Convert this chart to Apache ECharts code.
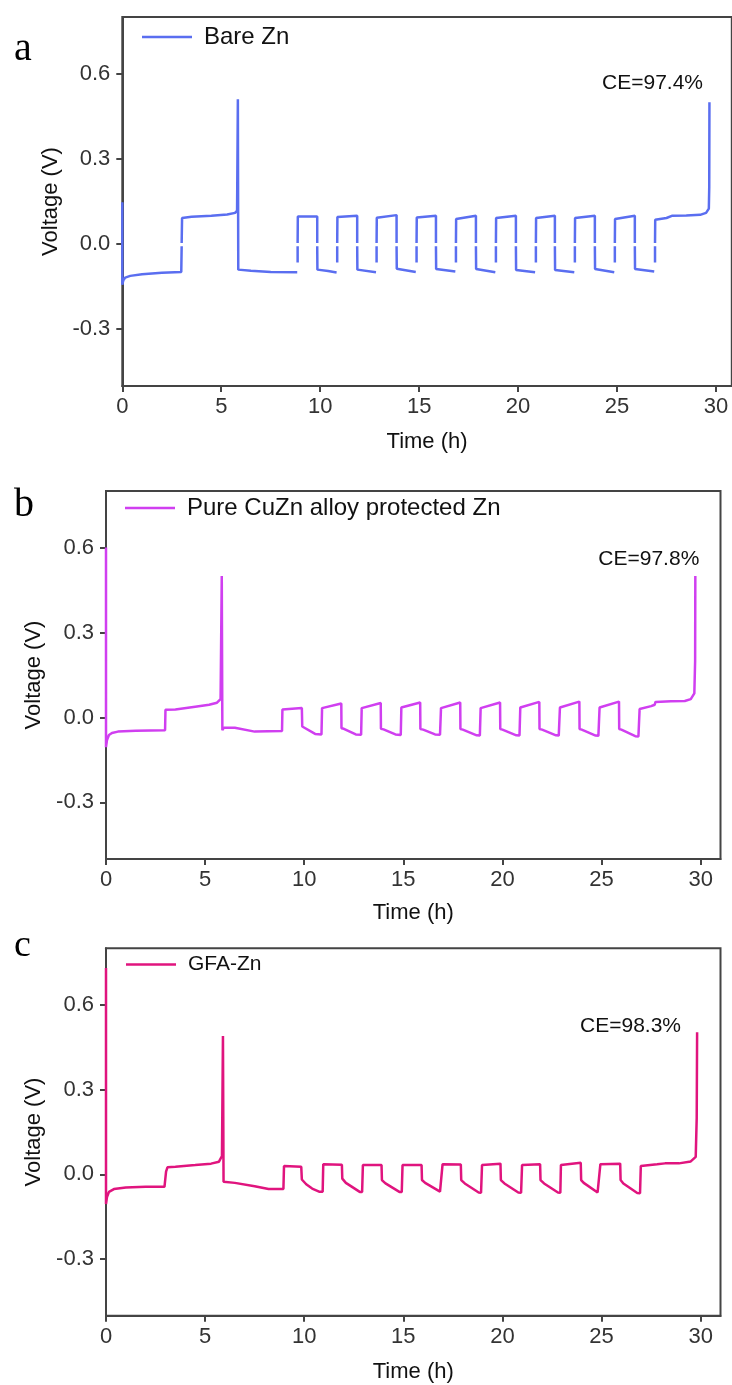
<!DOCTYPE html>
<html><head><meta charset="utf-8">
<script src="https://cdn.jsdelivr.net/npm/echarts@6/dist/echarts.min.js"></script>
<style>html,body{margin:0;padding:0;background:#fff;overflow:hidden}#c{width:732px;height:1385px}</style>
</head><body><div id="c"></div><script>
const seriesNames = ['Bare Zn', 'Pure CuZn alloy protected Zn', 'GFA-Zn'];
const panelLetters = ['a', 'b', 'c'];
const ceLabels = ['CE=97.4%', 'CE=97.8%', 'CE=98.3%'];
const xTicks = [0, 5, 10, 15, 20, 25, 30];
const yTicks = [-0.3, 0, 0.3, 0.6];
const xName = 'Time (h)';
const yName = 'Voltage (V)';

// [time (h), voltage (V)]; null = break in the trace
const bareZn = [
  [0,0.147],[0,-0.143],[0.05,-0.128],[0.15,-0.118],[0.4,-0.112],[1.0,-0.106],[2.0,-0.101],[2.98,-0.098],[3.0,-0.008],null,[3.0,0.004],[3.02,0.092],[3.5,0.096],[4.5,0.1],[5.3,0.104],[5.7,0.11],[5.8,0.118],[5.84,0.51],[5.86,-0.09],[6.5,-0.094],[7.5,-0.098],[8.84,-0.099],null,
  [8.86,-0.065],[8.86,-0.008],null,[8.86,0.004],[8.87,0.097],[9.85,0.097],[9.85,0.004],null,[9.85,-0.008],[9.86,-0.09],[10.4,-0.095],[10.83,-0.1],null,
  [10.86,-0.065],[10.86,-0.008],null,[10.86,0.004],[10.87,0.095],[11.87,0.1],[11.87,0.004],null,[11.87,-0.008],[11.88,-0.09],[12.82,-0.099],null,
  [12.85,-0.065],[12.85,-0.008],null,[12.85,0.004],[12.86,0.093],[13.86,0.102],[13.86,0.004],null,[13.86,-0.008],[13.87,-0.087],[14.83,-0.098],null,
  [14.87,-0.065],[14.87,-0.008],null,[14.87,0.004],[14.88,0.094],[15.85,0.1],[15.85,0.004],null,[15.85,-0.008],[15.86,-0.088],[16.83,-0.097],null,
  [16.86,-0.065],[16.86,-0.008],null,[16.86,0.004],[16.87,0.088],[17.87,0.1],[17.87,0.004],null,[17.87,-0.008],[17.88,-0.088],[18.85,-0.099],null,
  [18.88,-0.065],[18.88,-0.008],null,[18.88,0.004],[18.89,0.092],[19.89,0.1],[19.89,0.004],null,[19.89,-0.008],[19.9,-0.091],[20.86,-0.099],null,
  [20.9,-0.065],[20.9,-0.008],null,[20.9,0.004],[20.91,0.092],[21.86,0.1],[21.86,0.004],null,[21.86,-0.008],[21.87,-0.091],[22.84,-0.099],null,
  [22.87,-0.065],[22.87,-0.008],null,[22.87,0.004],[22.88,0.092],[23.88,0.1],[23.88,0.004],null,[23.88,-0.008],[23.89,-0.088],[24.86,-0.099],null,
  [24.89,-0.065],[24.89,-0.008],null,[24.89,0.004],[24.9,0.088],[25.9,0.1],[25.9,0.004],null,[25.9,-0.008],[25.91,-0.088],[26.88,-0.097],null,
  [26.92,-0.065],[26.92,-0.008],null,[26.92,0.004],[26.93,0.086],[27.5,0.092],[27.8,0.1],[28.5,0.101],[29.2,0.103],[29.5,0.11],[29.64,0.125],[29.66,0.2],[29.67,0.5]
];
const cuZn = [
  [0,0.6],[0,-0.105],[0.05,-0.08],[0.15,-0.062],[0.3,-0.055],[0.6,-0.05],[1.5,-0.047],[2.98,-0.045],[3.0,0.027],[3.5,0.028],[4.5,0.038],[5.2,0.045],[5.6,0.052],[5.78,0.065],[5.84,0.5],[5.87,-0.045],[5.95,-0.036],[6.5,-0.036],[7.5,-0.05],[8.88,-0.048],
  [8.9,0.028],[9.88,0.033],[9.9,-0.032],[10.0,-0.035],[10.55,-0.058],[10.87,-0.06],
  [10.9,0.033],[11.87,0.049],[11.88,-0.038],[12.0,-0.04],[12.6,-0.06],[12.87,-0.061],
  [12.9,0.033],[13.86,0.051],[13.87,-0.04],[14.0,-0.042],[14.6,-0.06],[14.87,-0.062],
  [14.9,0.035],[15.85,0.053],[15.86,-0.041],[16.0,-0.043],[16.6,-0.06],[16.85,-0.061],
  [16.9,0.033],[17.87,0.053],[17.88,-0.041],[18.0,-0.043],[18.7,-0.063],[18.86,-0.064],
  [18.9,0.033],[19.88,0.053],[19.89,-0.041],[20.0,-0.043],[20.7,-0.063],[20.86,-0.064],
  [20.9,0.035],[21.86,0.055],[21.87,-0.041],[22.0,-0.043],[22.7,-0.063],[22.84,-0.064],
  [22.9,0.035],[23.88,0.056],[23.89,-0.041],[24.0,-0.043],[24.7,-0.064],[24.84,-0.065],
  [24.9,0.035],[25.88,0.056],[25.89,-0.041],[26.0,-0.043],[26.7,-0.066],[26.86,-0.067],
  [26.92,0.03],[27.5,0.04],[27.68,0.045],[27.72,0.055],[28.5,0.057],[29.2,0.058],[29.5,0.065],[29.68,0.085],[29.72,0.2],[29.73,0.5]
];
const gfaZn = [
  [0,0.73],[0,-0.105],[0.05,-0.08],[0.15,-0.062],[0.4,-0.052],[1.0,-0.046],[2.0,-0.044],[2.95,-0.044],[3.0,-0.04],[3.03,0.01],[3.1,0.025],[3.5,0.027],[4.5,0.033],[5.3,0.038],[5.7,0.045],[5.85,0.065],[5.9,0.49],[5.93,-0.026],[6.5,-0.03],[7.5,-0.042],[8.2,-0.052],[8.95,-0.052],
  [8.98,0.03],[9.85,0.027],[9.88,-0.018],[10.1,-0.035],[10.4,-0.05],[10.75,-0.061],[10.93,-0.061],
  [10.96,0.036],[11.9,0.034],[11.92,-0.015],[12.1,-0.03],[12.8,-0.062],[12.92,-0.062],
  [12.96,0.033],[13.9,0.033],[13.92,-0.02],[14.1,-0.032],[14.8,-0.062],[14.92,-0.062],
  [14.96,0.033],[15.92,0.033],[15.94,-0.02],[16.1,-0.03],[16.85,-0.061],[16.94,-0.061],
  [16.98,0.036],[17.9,0.035],[17.92,-0.02],[18.1,-0.032],[18.8,-0.064],[18.92,-0.065],
  [18.97,0.033],[19.9,0.038],[19.92,-0.02],[20.1,-0.032],[20.8,-0.064],[20.94,-0.065],
  [20.99,0.033],[21.9,0.036],[21.92,-0.02],[22.1,-0.032],[22.8,-0.064],[22.92,-0.065],
  [22.95,0.033],[23.95,0.041],[23.97,-0.02],[24.1,-0.03],[24.8,-0.064],[24.9,-0.064],
  [24.94,0.036],[25.94,0.038],[25.96,-0.02],[26.1,-0.032],[26.8,-0.066],[26.94,-0.067],
  [26.98,0.03],[27.8,0.036],[28.2,0.039],[28.9,0.039],[29.5,0.046],[29.75,0.062],[29.8,0.2],[29.82,0.503]
];
const seriesData = [bareZn, cuZn, gfaZn];
const colors = ['#5a6ef0', '#d03ff0', '#e0147e'];

const FF = '"Liberation Sans", Arial, sans-serif';
const layout = [
  {left:122.3, top:17,    width:609.5, height:369,   xMax:30.8, xGap:45, yGap:53, legLeft:142, legTop:25,  legFont:24, letX:14, letY:49,  letFont:40, ceX:703,   ceY:83},
  {left:106,   top:491,   width:614.5, height:368,   xMax:31,   xGap:43, yGap:53, legLeft:125, legTop:496, legFont:24, letX:14, letY:505, letFont:40, ceX:699.3, ceY:559.5},
  {left:106,   top:948.3, width:614.5, height:367.4, xMax:31,   xGap:45, yGap:53, legLeft:126, legTop:954, legFont:21, letX:14, letY:946, letFont:38, ceX:681,   ceY:1026}
];
const AX = '#444';

const option = {
  animation: false,
  backgroundColor: '#fff',
  grid: layout.map(L => ({left:L.left, top:L.top, width:L.width, height:L.height, show:true, borderColor:AX, borderWidth:2, backgroundColor:'transparent'})),
  xAxis: layout.map((L, i) => ({
    gridIndex:i, type:'value', min:0, max:L.xMax,
    name:xName, nameLocation:'middle', nameGap:L.xGap,
    nameTextStyle:{fontSize:22, color:'#111', fontFamily:FF},
    axisLine:{onZero:false, lineStyle:{color:AX, width:2}},
    axisTick:{show:true, inside:false, length:6, customValues:xTicks, lineStyle:{color:AX, width:2}},
    axisLabel:{customValues:xTicks, fontSize:22, color:'#333', margin:10, fontFamily:FF},
    splitLine:{show:false}
  })),
  yAxis: layout.map((L, i) => ({
    gridIndex:i, type:'value', min:-0.5, max:0.8,
    name:yName, nameLocation:'middle', nameGap:L.yGap,
    nameTextStyle:{fontSize:22, color:'#111', fontFamily:FF},
    axisLine:{onZero:false, lineStyle:{color:AX, width:2}},
    axisTick:{show:true, inside:false, length:6, customValues:yTicks, lineStyle:{color:AX, width:2}},
    axisLabel:{customValues:yTicks, fontSize:22, color:'#333', margin:12, fontFamily:FF, formatter:v => Number(v).toFixed(1)},
    splitLine:{show:false}
  })),
  legend: layout.map((L, i) => ({
    data:[seriesNames[i]], left:L.legLeft, top:L.legTop, padding:0, icon:'rect', itemWidth:50, itemHeight:2.5,
    selectedMode:false, textStyle:{fontSize:L.legFont, color:'#111', fontFamily:FF, padding:[0,0,0,7]}
  })),
  series: seriesData.map((d, i) => ({
    type:'line', name:seriesNames[i], xAxisIndex:i, yAxisIndex:i,
    data:d.map(p => p === null ? ['-', '-'] : p),
    symbol:'none', showSymbol:false, connectNulls:false, clip:true,
    lineStyle:{width:2.5, color:colors[i]}, itemStyle:{color:colors[i]}
  })),
  graphic: [
    ...layout.map((L, i) => ({type:'text', x:L.letX, y:L.letY, style:{text:panelLetters[i], font:L.letFont + 'px "Liberation Serif", "Times New Roman", serif', fill:'#000', verticalAlign:'middle'}})),
    ...layout.map((L, i) => ({type:'text', x:L.ceX, y:L.ceY, style:{text:ceLabels[i], font:'21px ' + FF, fill:'#111', align:'right', verticalAlign:'middle'}}))
  ]
};
const chart = echarts.init(document.getElementById('c'), null, {renderer:'canvas'});
chart.setOption(option);
</script></body></html>
